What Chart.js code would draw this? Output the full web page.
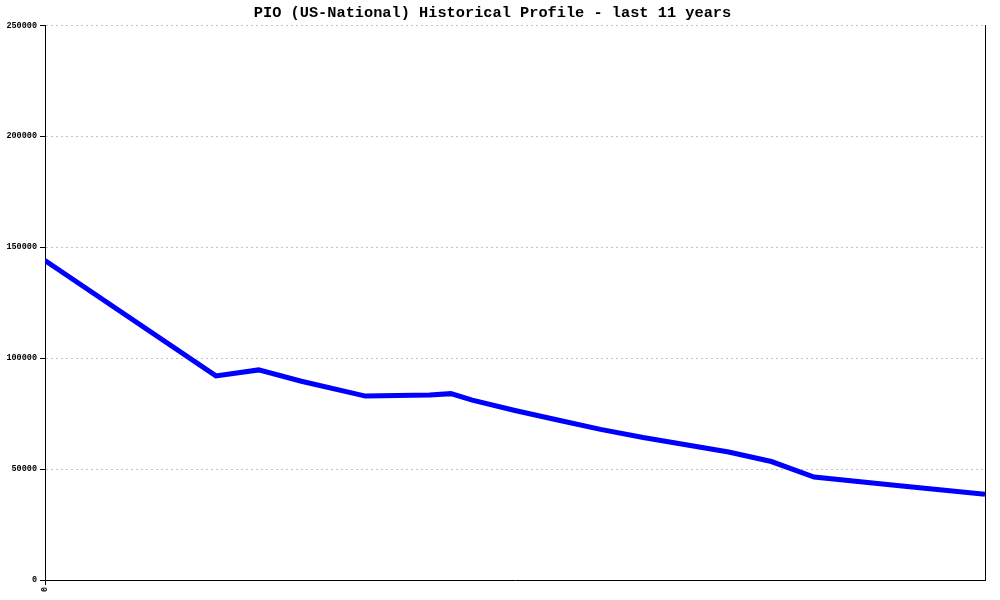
<!DOCTYPE html>
<html>
<head>
<meta charset="utf-8">
<script src="https://cdn.jsdelivr.net/npm/chart.js@4/dist/chart.umd.min.js"></script>
<style>
  html, body { margin: 0; padding: 0; background: #ffffff; }
  #wrap { width: 1000px; height: 600px; }
</style>
</head>
<body>
<div id="wrap"><canvas id="c" width="1000" height="600"></canvas></div>
<script>
// Data (x = months from start of the 11-year window)
const months = [0, 24, 30, 36, 45, 54, 57, 60, 66, 72, 78, 84, 90, 96, 102, 108, 120, 132];
const values = [144000, 92000, 94700, 89600, 82900, 83400, 84000, 81100, 76400, 72100, 67900, 64200, 61000, 57700, 53400, 46400, 42500, 38600];
const yTicks = [0, 50000, 100000, 150000, 200000, 250000];
const xTickLabels = ['0'];
const titleText = 'PIO (US-National) Historical Profile - last 11 years';

const points = months.map((m, i) => ({ x: m, y: values[i] }));
const tickFont = { family: 'Liberation Mono', size: 8.5, weight: 'bold' };

new Chart(document.getElementById('c'), {
  type: 'line',
  data: {
    datasets: [{
      data: points,
      borderColor: '#0000ff',
      borderWidth: 5,
      pointRadius: 0,
      pointHoverRadius: 0,
      tension: 0,
      fill: false,
      borderJoinStyle: 'miter'
    }]
  },
  options: {
    responsive: false,
    animation: false,
    devicePixelRatio: 1,
    layout: { padding: { left: 0, right: 15, top: 0, bottom: 0 } },
    plugins: {
      legend: { display: false },
      tooltip: { enabled: false },
      title: {
        display: true,
        text: titleText,
        color: '#000000',
        font: { family: 'Liberation Mono', size: 15.3, weight: 'bold', lineHeight: 1.2 },
        padding: { top: 4, bottom: 3 }
      }
    },
    scales: {
      x: {
        type: 'linear',
        min: months[0],
        max: months[months.length - 1],
        afterBuildTicks: s => { s.ticks = [{ value: months[0] }]; },
        afterFit: s => { s.height = 20; },
        ticks: {
          minRotation: 90,
          maxRotation: 90,
          autoSkip: false,
          padding: 2,
          color: '#000000',
          font: tickFont,
          callback: (v, i) => xTickLabels[i] ?? ''
        },
        grid: {
          display: true,
          drawOnChartArea: false,
          drawTicks: true,
          tickLength: 5,
          tickColor: '#000000',
          tickBorderDash: []
        },
        border: { display: true, color: '#000000', width: 1 }
      },
      y: {
        min: 0,
        max: 250000,
        afterBuildTicks: s => { s.ticks = yTicks.map(v => ({ value: v })); },
        afterFit: s => { s.width = 45; },
        ticks: {
          padding: 3,
          color: '#000000',
          font: tickFont,
          callback: v => String(v)
        },
        grid: {
          color: '#c4c4c4',
          lineWidth: 1,
          tickLength: 5,
          tickColor: '#000000',
          tickBorderDash: []
        },
        border: { display: true, color: '#000000', width: 1, dash: [2, 3] }
      },
      y2: {
        position: 'right',
        min: 0,
        max: 250000,
        afterFit: s => { s.width = 0; },
        ticks: { display: false },
        grid: { display: false },
        border: { display: true, color: '#000000', width: 1 }
      }
    }
  }
});
</script>
</body>
</html>
